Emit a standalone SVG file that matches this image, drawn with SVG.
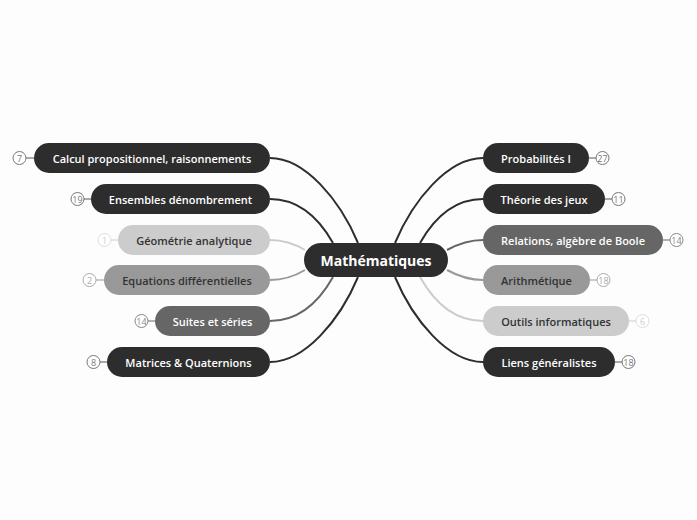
<svg xmlns="http://www.w3.org/2000/svg" width="697" height="520" viewBox="0 0 697 520">
<style>
.lbl{font-family:"Open Sans","Noto Sans","DejaVu Sans",sans-serif;font-weight:600;font-size:11px;text-anchor:middle;dominant-baseline:central}
.w{fill:#ffffff}.k{fill:#333333}
.bd{fill:#ffffff;stroke-width:1}
.bt{font-family:"Open Sans","Noto Sans",sans-serif;font-size:9px;text-anchor:middle;dominant-baseline:central}
.c{fill:none;stroke-width:2}
</style>
<rect width="697" height="520" fill="#fdfdfd"/>
<g id="connectors">
<path class="c" stroke="#2d2d2d" d="M270,158 C305,158 340,200 358,243"/>
<path class="c" stroke="#2d2d2d" d="M270,199 C300,199 320,220 333,243"/>
<path class="c" stroke="#cccccc" d="M270,240 C285,240 295,244 305,250"/>
<path class="c" stroke="#999999" d="M270,280 C285,280 295,276 305,270"/>
<path class="c" stroke="#666666" d="M270,321 C300,321 320,300 333,277"/>
<path class="c" stroke="#2d2d2d" d="M270,362 C305,362 340,320 358,277"/>
<path class="c" stroke="#2d2d2d" d="M483,158 C448,158 413,200 395,243"/>
<path class="c" stroke="#2d2d2d" d="M483,199 C453,199 433,220 420,243"/>
<path class="c" stroke="#666666" d="M483,240 C468,240 458,244 447,250"/>
<path class="c" stroke="#999999" d="M483,280 C468,280 458,276 447,270"/>
<path class="c" stroke="#cccccc" d="M483,321 C453,321 433,300 420,277"/>
<path class="c" stroke="#2d2d2d" d="M483,362 C448,362 413,320 395,277"/>
</g>
<g id="center">
<rect x="304" y="243" width="144" height="34" rx="17" fill="#2d2d2d"/>
<text class="lbl w" x="376" y="260" style="font-size:14px;font-weight:700">Mathématiques</text>
</g>
<g id="n1">
<line x1="26" y1="158" x2="34" y2="158" stroke="#555" stroke-width="1"/>
<circle class="bd" cx="19.5" cy="158" r="6.5" stroke="#777"/>
<text class="bt" x="19.5" y="158" fill="#777">7</text>
<rect x="34" y="143" width="236" height="30" rx="15" fill="#2d2d2d"/>
<text class="lbl w" x="152" y="158">Calcul propositionnel, raisonnements</text>
</g>
<g id="n2">
<line x1="84" y1="199" x2="91" y2="199" stroke="#555" stroke-width="1"/>
<circle class="bd" cx="77.5" cy="199" r="6.5" stroke="#777"/>
<text class="bt" x="77.5" y="199" fill="#777">19</text>
<rect x="91" y="184" width="179" height="30" rx="15" fill="#2d2d2d"/>
<text class="lbl w" x="180.5" y="199">Ensembles dénombrement</text>
</g>
<g id="n3">
<line x1="111" y1="240" x2="118" y2="240" stroke="#ccc" stroke-width="1"/>
<circle class="bd" cx="104.5" cy="240" r="6.5" stroke="#ddd"/>
<text class="bt" x="104.5" y="240" fill="#ccc">1</text>
<rect x="118" y="225" width="152" height="30" rx="15" fill="#cccccc"/>
<text class="lbl k" x="194" y="240">Géométrie analytique</text>
</g>
<g id="n4">
<line x1="96" y1="280" x2="104" y2="280" stroke="#999" stroke-width="1"/>
<circle class="bd" cx="89.5" cy="280" r="6.5" stroke="#aaa"/>
<text class="bt" x="89.5" y="280" fill="#aaa">2</text>
<rect x="104" y="265" width="166" height="30" rx="15" fill="#999999"/>
<text class="lbl k" x="187" y="280">Equations différentielles</text>
</g>
<g id="n5">
<line x1="148" y1="321" x2="155" y2="321" stroke="#666" stroke-width="1"/>
<circle class="bd" cx="141.5" cy="321" r="6.5" stroke="#888"/>
<text class="bt" x="141.5" y="321" fill="#888">14</text>
<rect x="155" y="306" width="115" height="30" rx="15" fill="#666666"/>
<text class="lbl w" x="212.5" y="321">Suites et séries</text>
</g>
<g id="n6">
<line x1="100" y1="362" x2="107" y2="362" stroke="#555" stroke-width="1"/>
<circle class="bd" cx="93.5" cy="362" r="6.5" stroke="#777"/>
<text class="bt" x="93.5" y="362" fill="#777">8</text>
<rect x="107" y="347" width="163" height="30" rx="15" fill="#2d2d2d"/>
<text class="lbl w" x="188.5" y="362">Matrices &amp; Quaternions</text>
</g>
<g id="n7">
<rect x="483" y="143" width="106" height="30" rx="15" fill="#2d2d2d"/>
<text class="lbl w" x="536" y="158">Probabilités I</text>
<line x1="589" y1="158" x2="596" y2="158" stroke="#555" stroke-width="1"/>
<circle class="bd" cx="602.5" cy="158" r="6.5" stroke="#777"/>
<text class="bt" x="602.5" y="158" fill="#777">27</text>
</g>
<g id="n8">
<rect x="483" y="184" width="122" height="30" rx="15" fill="#2d2d2d"/>
<text class="lbl w" x="544" y="199">Théorie des jeux</text>
<line x1="605" y1="199" x2="612" y2="199" stroke="#555" stroke-width="1"/>
<circle class="bd" cx="618.5" cy="199" r="6.5" stroke="#777"/>
<text class="bt" x="618.5" y="199" fill="#777">11</text>
</g>
<g id="n9">
<rect x="483" y="225" width="180" height="30" rx="15" fill="#666666"/>
<text class="lbl w" x="573" y="240">Relations, algèbre de Boole</text>
<line x1="663" y1="240" x2="670" y2="240" stroke="#666" stroke-width="1"/>
<circle class="bd" cx="676.5" cy="240" r="6.5" stroke="#888"/>
<text class="bt" x="676.5" y="240" fill="#888">14</text>
</g>
<g id="n10">
<rect x="483" y="265" width="107" height="30" rx="15" fill="#999999"/>
<text class="lbl k" x="536.5" y="280">Arithmétique</text>
<line x1="590" y1="280" x2="597" y2="280" stroke="#999" stroke-width="1"/>
<circle class="bd" cx="603.5" cy="280" r="6.5" stroke="#aaa"/>
<text class="bt" x="603.5" y="280" fill="#aaa">18</text>
</g>
<g id="n11">
<rect x="483" y="306" width="146" height="30" rx="15" fill="#cccccc"/>
<text class="lbl k" x="556" y="321">Outils informatiques</text>
<line x1="629" y1="321" x2="636" y2="321" stroke="#ccc" stroke-width="1"/>
<circle class="bd" cx="642.5" cy="321" r="6.5" stroke="#ddd"/>
<text class="bt" x="642.5" y="321" fill="#ccc">6</text>
</g>
<g id="n12">
<rect x="483" y="347" width="132" height="30" rx="15" fill="#2d2d2d"/>
<text class="lbl w" x="549" y="362">Liens généralistes</text>
<line x1="615" y1="362" x2="622" y2="362" stroke="#555" stroke-width="1"/>
<circle class="bd" cx="628.5" cy="362" r="6.5" stroke="#777"/>
<text class="bt" x="628.5" y="362" fill="#777">18</text>
</g>
</svg>
